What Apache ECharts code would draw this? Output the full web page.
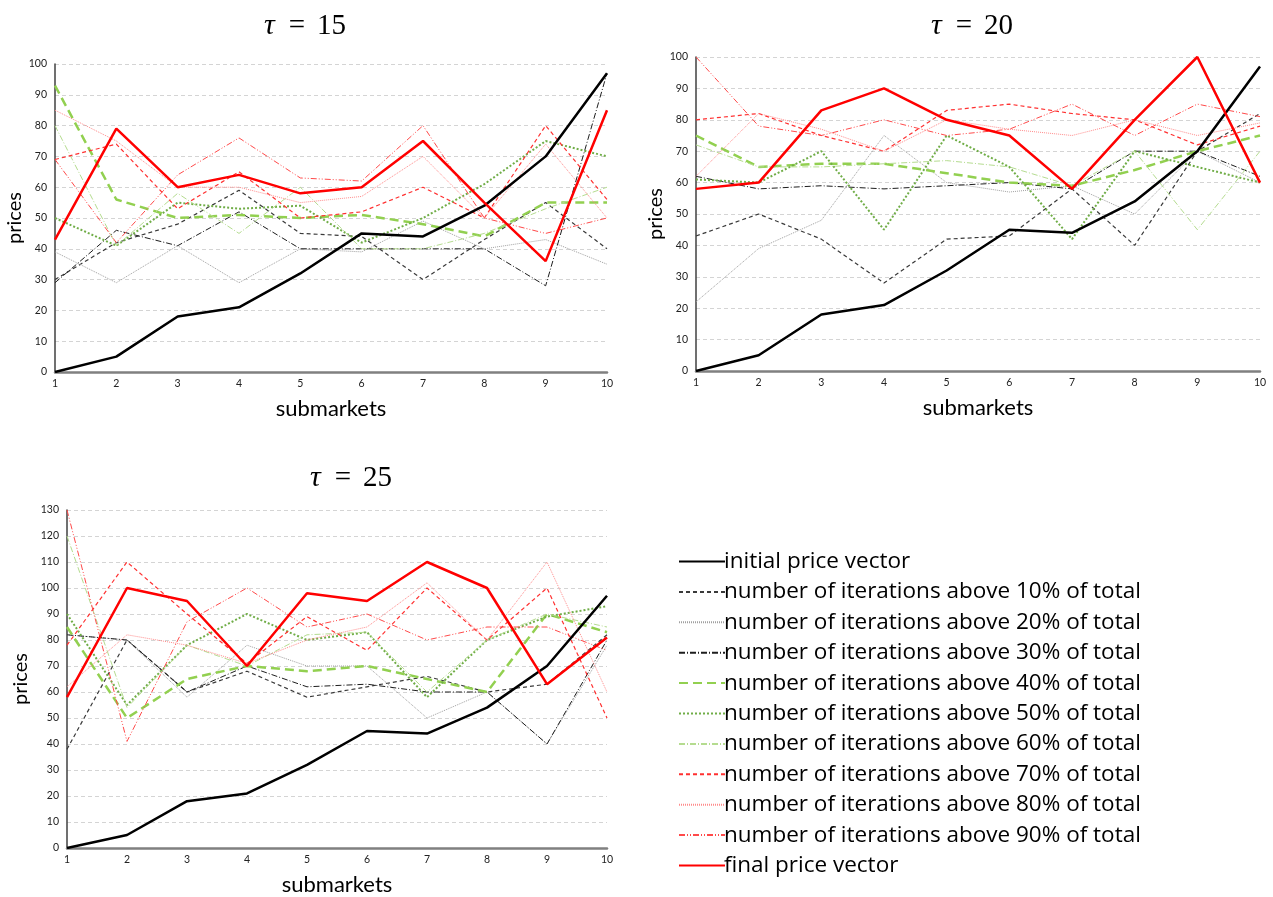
<!DOCTYPE html>
<html>
<head>
<meta charset="utf-8">
<style>
  html, body { margin: 0; padding: 0; background: #fff; }
  #chart { width: 1273px; height: 897px; }
</style>
<script src="https://cdn.jsdelivr.net/npm/echarts@6/dist/echarts.min.js"></script>
</head>
<body>
<div id="chart"></div>
<script>
// Submarket indices on the x axis
const submarkets = ['1', '2', '3', '4', '5', '6', '7', '8', '9', '10'];

// Legend names, in drawing order
const seriesNames = [
  'initial price vector',
  'number of iterations above 10% of total',
  'number of iterations above 20% of total',
  'number of iterations above 30% of total',
  'number of iterations above 40% of total',
  'number of iterations above 50% of total',
  'number of iterations above 60% of total',
  'number of iterations above 70% of total',
  'number of iterations above 80% of total',
  'number of iterations above 90% of total',
  'final price vector'
];

// Price vectors for tau = 15 (one row per entry of seriesNames)
const pricesTau15 = [
  [0, 5, 18, 21, 32, 45, 44, 54, 70, 97],
  [30, 42, 48, 59, 45, 44, 30, 43, 55, 40],
  [39, 29, 41, 29, 40, 39, 49, 40, 43, 35],
  [29, 46, 41, 52, 40, 40, 40, 40, 28, 97],
  [93, 56, 50, 51, 50, 51, 48, 44, 55, 55],
  [50, 41, 55, 53, 54, 42, 50, 61, 75, 70],
  [80, 41, 58, 45, 60, 40, 40, 45, 53, 60],
  [69, 74, 53, 65, 50, 52, 60, 50, 80, 56],
  [85, 75, 60, 60, 55, 57, 70, 50, 74, 50],
  [69, 42, 64, 76, 63, 62, 80, 50, 45, 50],
  [43, 79, 60, 64, 58, 60, 75, 55, 36, 85]
];

// Price vectors for tau = 20
const pricesTau20 = [
  [0, 5, 18, 21, 32, 45, 44, 54, 70, 97],
  [43, 50, 42, 28, 42, 43, 58, 40, 70, 82],
  [22, 39, 48, 75, 60, 57, 59, 50, 70, 60],
  [62, 58, 59, 58, 59, 60, 58, 70, 70, 62],
  [75, 65, 66, 66, 63, 60, 59, 64, 70, 75],
  [61, 60, 70, 45, 75, 65, 42, 70, 65, 60],
  [72, 65, 65, 66, 67, 65, 59, 70, 45, 70],
  [80, 82, 75, 70, 83, 85, 82, 80, 72, 78],
  [62, 82, 77, 70, 80, 77, 75, 80, 75, 79],
  [100, 78, 75, 80, 75, 77, 85, 75, 85, 81],
  [58, 60, 83, 90, 80, 75, 58, 80, 100, 60]
];

// Price vectors for tau = 25
const pricesTau25 = [
  [0, 5, 18, 21, 32, 45, 44, 54, 70, 97],
  [38, 80, 60, 68, 58, 62, 66, 60, 63, 82],
  [82, 80, 58, 78, 70, 70, 50, 60, 40, 78],
  [82, 80, 60, 70, 62, 63, 60, 60, 40, 80],
  [85, 50, 65, 70, 68, 70, 65, 60, 90, 83],
  [90, 55, 78, 90, 80, 83, 58, 80, 89, 93],
  [120, 54, 78, 70, 82, 83, 60, 80, 90, 85],
  [78, 110, 90, 71, 89, 76, 100, 80, 100, 50],
  [62, 82, 78, 71, 80, 85, 102, 80, 110, 60],
  [130, 41, 87, 100, 85, 90, 80, 85, 85, 76],
  [58, 100, 95, 70, 98, 95, 110, 100, 63, 81]
];

// Line styles, one per entry of seriesNames
const lineStyles = [
  { color: '#000000', width: 2.5, type: 'solid' },
  { color: '#3a3a3a', width: 1.2, type: [4, 3] },
  { color: '#a0a0a0', width: 1, type: [1, 1] },
  { color: '#1e1e1e', width: 1, type: [6, 2, 1, 2] },
  { color: '#92d050', width: 2.5, type: [9, 5] },
  { color: '#70ad47', width: 2, type: [2, 2] },
  { color: '#b5dc90', width: 1, type: [6, 2, 1, 2] },
  { color: '#ff3030', width: 1.2, type: [4, 3] },
  { color: '#ff8c8c', width: 1, type: [1, 1] },
  { color: '#ff4a4a', width: 1, type: [6, 2, 1, 2, 1, 2] },
  { color: '#ff0000', width: 2.5, type: 'solid' }
];

const panels = [
  { tau: '15', data: pricesTau15, grid: { left: 55, top: 64, width: 552, height: 308 }, max: 100, nameGap: 27, titleX: 300, titleY: 6 },
  { tau: '20', data: pricesTau20, grid: { left: 696, top: 57, width: 564, height: 314 }, max: 100, nameGap: 14, titleX: 967, titleY: 6 },
  { tau: '25', data: pricesTau25, grid: { left: 67, top: 510, width: 540, height: 338 }, max: 130, nameGap: 36, titleX: 346, titleY: 458 }
];

const axisFont = 'Lato, "Open Sans", sans-serif';
const mathFont = '"Liberation Serif", "DejaVu Serif", serif';

const option = {
  animation: false,
  backgroundColor: '#ffffff',
  title: panels.map(p => ({
    text: '{t|τ}{e|=}{n|' + p.tau + '}',
    left: p.titleX,
    top: p.titleY,
    textAlign: 'center',
    textStyle: {
      fontFamily: mathFont,
      fontSize: 29,
      fontWeight: 'normal',
      color: '#000',
      rich: {
        t: { fontFamily: mathFont, fontStyle: 'italic', fontWeight: 'normal', fontSize: 30, color: '#000' },
        e: { fontFamily: mathFont, fontWeight: 'normal', fontSize: 29, color: '#000', padding: [0, 12, 0, 14] },
        n: { fontFamily: mathFont, fontWeight: 'normal', fontSize: 29, color: '#000' }
      }
    }
  })),
  grid: panels.map(p => Object.assign({ containLabel: false }, p.grid)),
  xAxis: panels.map((p, i) => ({
    type: 'category',
    gridIndex: i,
    data: submarkets,
    boundaryGap: false,
    name: 'submarkets',
    nameLocation: 'middle',
    nameGap: 26,
    nameTextStyle: { fontFamily: axisFont, fontSize: 22, color: '#000' },
    axisLine: { lineStyle: { color: '#808080', width: 2.5 } },
    axisTick: { show: false },
    axisLabel: { fontFamily: axisFont, fontSize: 10.5, color: '#222', margin: 6 },
    splitLine: { show: false }
  })),
  yAxis: panels.map((p, i) => ({
    type: 'value',
    gridIndex: i,
    min: 0,
    max: p.max,
    interval: 10,
    name: 'prices',
    nameLocation: 'middle',
    nameGap: p.nameGap,
    nameTextStyle: { fontFamily: axisFont, fontSize: 20, color: '#000' },
    axisLine: { show: true, lineStyle: { color: '#404040', width: 1.5 } },
    axisTick: { show: false },
    axisLabel: { fontFamily: axisFont, fontSize: 10.5, color: '#222', margin: 8 },
    splitLine: { show: true, lineStyle: { color: '#d4d4d4', type: [4, 3], width: 1 } }
  })),
  legend: {
    orient: 'vertical',
    left: 673,
    top: 545,
    height: 345,
    itemWidth: 46,
    itemHeight: 14,
    itemGap: 7.4,
    data: seriesNames,
    itemStyle: { opacity: 0 },
    textStyle: { fontFamily: '"Open Sans", sans-serif', fontSize: 22.5, color: '#000', padding: [0, 0, 0, -6] }
  },
  series: []
};

panels.forEach((p, pi) => {
  seriesNames.forEach((name, si) => {
    option.series.push({
      type: 'line',
      name: name,
      xAxisIndex: pi,
      yAxisIndex: pi,
      data: p.data[si],
      symbol: 'none',
      z: si === 0 || si === 10 ? 5 : 3,
      lineStyle: Object.assign({}, lineStyles[si]),
      itemStyle: { color: lineStyles[si].color }
    });
  });
});

const chart = echarts.init(document.getElementById('chart'), null, { renderer: 'canvas' });
chart.setOption(option);
</script>
</body>
</html>
